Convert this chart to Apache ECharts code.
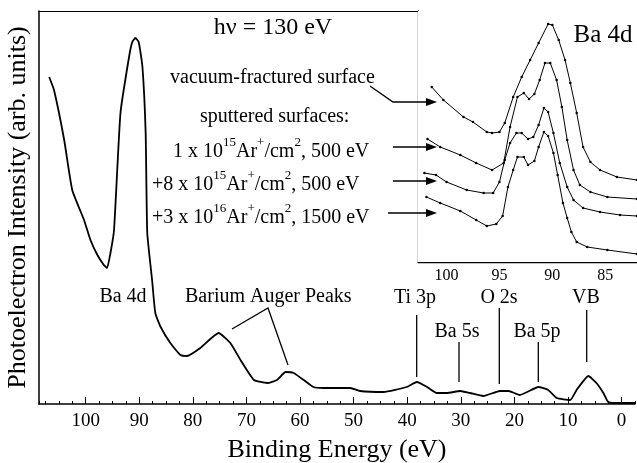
<!DOCTYPE html>
<html lang="en">
<head>
    <meta charset="UTF-8">
    <title>Ba 4d photoemission</title>
    <script src="https://cdn.jsdelivr.net/npm/echarts@6/dist/echarts.min.js"></script>
    <style type="text/css">
        html, body { margin: 0; padding: 0; background: #fff; }
        #main { width: 637px; height: 463px; }
    </style>
</head>
<body>
    <div id="main"></div>
    <script type="text/javascript">
    // main spectrum (hv = 130 eV)
    var mainEnergy = [106.8, 105.9, 104.0, 102.5, 100.3, 99.1, 97.8, 96.6, 96.0, 95.4, 94.7, 93.5, 91.9, 91.3, 90.7,
        90.1, 89.4, 88.8, 88.5, 87.6, 87.0, 86.0, 84.2, 82.3, 81.1, 78.6, 75.2, 73.0, 71.1, 68.6, 66.1, 64.3, 62.7,
        61.2, 59.3, 57.5, 55.7, 50.6, 48.8, 44.4, 40.1, 38.2, 36.3, 34.5, 32.6, 30.1, 28.3, 25.8, 22.7, 21.1, 19.0,
        15.5, 13.7, 12.1, 9.6, 8.4, 6.2, 4.7, 3.4, 2.5, 1.2, -0.3, -2.5];
    var mainIntensity = [327, 314, 264, 214, 184, 164, 149, 139, 136, 150, 174, 291, 347, 362, 366,
        362, 337, 271, 171, 124, 91, 77, 61, 49, 48, 56, 71, 61, 44, 24, 21, 24, 32,
        31, 24, 17, 16, 16, 13, 12, 17, 22, 17, 11, 11, 13, 11, 8, 13, 13, 9,
        17, 14, 6, 4, 14, 28, 21, 11, 2, 1, 1, 1];

    // inset: Ba 4d region, four surfaces
    var vacuumE = [101.4, 100.3, 98.4, 97.5, 96.2, 95.7, 95.0, 94.5, 93.7, 92.9, 92.1, 91.3, 90.4, 90.0, 89.4,
        88.8, 88.3, 87.7, 87.1, 86.4, 85.5, 83.9, 82.0];
    var vacuumI = [175, 162, 145, 140, 130, 129, 130, 139, 165, 185, 202, 219, 238, 237, 222,
        202, 179, 149, 115, 100, 92, 85, 82];
    var sp1E = [101.8, 100.6, 98.7, 97.2, 95.7, 94.6, 94.0, 93.3, 92.7, 92.2, 91.7, 91.2, 90.7, 90.2, 89.6,
        89.1, 88.6, 88.0, 87.4, 86.4, 84.8, 82.0];
    var sp1I = [123, 115, 107, 99, 92, 99, 135, 165, 169, 163, 168, 182, 199, 199, 182,
        155, 122, 92, 77, 70, 65, 63];
    var sp2E = [102.1, 101.0, 100.0, 98.1, 96.5, 95.6, 95.0, 94.5, 94.0, 93.4, 92.9, 92.3, 91.8, 91.3, 90.8,
        90.4, 89.9, 89.3, 88.6, 88.0, 87.1, 85.5, 83.6, 82.0];
    var sp2I = [89, 87, 80, 72, 69, 69, 80, 102, 119, 129, 129, 123, 125, 137, 154,
        150, 129, 99, 75, 62, 54, 50, 47, 46];
    var sp3E = [101.9, 100.6, 98.7, 97.2, 96.2, 95.3, 94.7, 94.2, 93.7, 93.3, 92.7, 92.3, 91.7, 91.3, 90.8,
        90.4, 89.9, 89.5, 89.0, 88.6, 88.2, 87.7, 86.7, 84.8, 82.0];
    var sp3I = [65, 59, 51, 42, 36, 38, 46, 75, 92, 105, 105, 97, 101, 115, 130,
        126, 109, 87, 59, 44, 30, 20, 15, 12, 8];

    var mainTicks = [0, 10, 20, 30, 40, 50, 60, 70, 80, 90, 100];
    var insetTicks = [85, 90, 95, 100];

    function pairs(xs, ys) {
        var out = [];
        for (var i = 0; i < xs.length; i++) out.push([xs[i], ys[i]]);
        return out;
    }

    var serif = '"Liberation Serif", "DejaVu Serif", serif';
    var myChart = echarts.init(document.getElementById('main'), null, { renderer: 'canvas' });

    function label(x, y, txt, size, align) {
        return {
            type: 'text', x: x, y: y, z: 50,
            style: { text: txt, font: size + 'px ' + serif, fill: '#000', align: align || 'center', verticalAlign: 'middle' }
        };
    }
    function seg(points) {
        return { type: 'polyline', z: 50, shape: { points: points }, style: { stroke: '#000', lineWidth: 1.3, fill: null } };
    }
    function arrow(x0, x1, y) {
        return [
            seg([[x0, y], [x1 - 8, y]]),
            { type: 'polygon', z: 50, shape: { points: [[x1, y], [x1 - 11, y - 4], [x1 - 11, y + 4]] }, style: { fill: '#000' } }
        ];
    }
    function richLabel(x, y, txt) {
        return {
            type: 'text', x: x, y: y, z: 50,
            style: {
                text: txt, fill: '#000', align: 'left', verticalAlign: 'middle',
                font: '20px ' + serif,
                rich: {
                    n: { fontFamily: serif, fontSize: 20, lineHeight: 26, verticalAlign: 'bottom' },
                    s: { fontFamily: serif, fontSize: 13, lineHeight: 26, verticalAlign: 'top' }
                }
            }
        };
    }

    var graphics = [
        label(273, 28, 'h\u03bd = 130 eV', 24),
        label(603, 35, 'Ba 4d', 25),
        label(170, 78, 'vacuum-fractured surface', 20, 'left'),
        label(200, 117, 'sputtered surfaces:', 20, 'left'),
        richLabel(173, 149, '{n|1 x 10}{s|15}{n|Ar}{s|+}{n|/cm}{s|2}{n|, 500 eV}'),
        richLabel(152, 182, '{n|+8 x 10}{s|15}{n|Ar}{s|+}{n|/cm}{s|2}{n|, 500 eV}'),
        richLabel(152, 215, '{n|+3 x 10}{s|16}{n|Ar}{s|+}{n|/cm}{s|2}{n|, 1500 eV}'),
        seg([[370, 86], [393, 102], [429, 102]]),
        { type: 'polygon', z: 50, shape: { points: [[437, 102], [426, 98], [426, 106]] }, style: { fill: '#000' } },
        label(123, 297, 'Ba 4d', 20),
        label(185, 297, 'Barium Auger Peaks', 20, 'left'),
        seg([[232, 329], [268, 308], [288, 365]]),
        label(415, 298, 'Ti 3p', 20),
        seg([[416.7, 315], [416.7, 377]]),
        label(457, 332, 'Ba 5s', 20),
        seg([[459, 342], [459, 382]]),
        label(499, 298, 'O 2s', 20),
        seg([[499.3, 308], [499.3, 384]]),
        label(537, 332, 'Ba 5p', 20),
        seg([[538.3, 342], [538.3, 382]]),
        label(586, 298, 'VB', 20),
        seg([[586.7, 310], [586.7, 362]])
    ].concat(arrow(393, 437, 147), arrow(393, 437, 181), arrow(388, 437, 213));

    var tickStyle = { color: '#000', width: 1 };
    var option = {
        backgroundColor: '#fff',
        animation: false,
        textStyle: { fontFamily: serif, color: '#000' },
        grid: [
            { left: 39, top: 11, right: 2, bottom: 59, containLabel: false, outerBoundsMode: 'none' },
            { left: 418, top: 11, right: 0, bottom: 201, containLabel: false, outerBoundsMode: 'none',
              show: true, backgroundColor: '#fff', borderWidth: 0, z: 5 }
        ],
        xAxis: [
            // main: minor ticks + axis line
            { type: 'value', gridIndex: 0, position: 'bottom', min: -2.5, max: 108.7, interval: 2.5, inverse: true,
              axisLine: { show: true, onZero: false, lineStyle: { color: '#000', width: 1.5 } },
              axisTick: { show: true, inside: true, length: 3, lineStyle: tickStyle },
              axisLabel: { show: false }, splitLine: { show: false },
              name: 'Binding Energy (eV)', nameLocation: 'middle', nameGap: 33,
              nameTextStyle: { fontFamily: serif, fontSize: 26, color: '#000' } },
            // main: major ticks with labels
            { type: 'value', gridIndex: 0, position: 'bottom', min: -2.5, max: 108.7, inverse: true,
              axisLine: { show: false, onZero: false },
              axisTick: { show: true, inside: true, length: 7, customValues: mainTicks, lineStyle: tickStyle },
              axisLabel: { show: true, customValues: mainTicks, margin: 8, fontFamily: serif, fontSize: 19, color: '#000' },
              splitLine: { show: false } },
            // main top border
            { type: 'value', gridIndex: 0, position: 'top', min: -2.5, max: 108.7, inverse: true,
              axisLine: { show: true, onZero: false, lineStyle: { color: '#000', width: 1.2 } },
              axisTick: { show: false }, axisLabel: { show: false }, splitLine: { show: false } },
            // inset bottom minor
            { type: 'value', gridIndex: 1, position: 'bottom', min: 82, max: 102.7, interval: 1, inverse: true,
              axisLine: { show: true, onZero: false, lineStyle: { color: '#000', width: 1.3 } },
              axisTick: { show: true, inside: true, length: 3, lineStyle: tickStyle },
              axisLabel: { show: false }, splitLine: { show: false } },
            // inset bottom major
            { type: 'value', gridIndex: 1, position: 'bottom', min: 82, max: 102.7, inverse: true,
              axisLine: { show: false, onZero: false },
              axisTick: { show: true, inside: true, length: 6, customValues: insetTicks, lineStyle: tickStyle },
              axisLabel: { show: true, customValues: insetTicks, margin: 6, fontFamily: serif, fontSize: 16, color: '#000' },
              splitLine: { show: false } },
            // inset top minor
            { type: 'value', gridIndex: 1, position: 'top', min: 82, max: 102.7, interval: 1, inverse: true,
              axisLine: { show: true, onZero: false, lineStyle: { color: '#000', width: 1.2 } },
              axisTick: { show: true, inside: true, length: 3, lineStyle: tickStyle },
              axisLabel: { show: false }, splitLine: { show: false } },
            // inset top major
            { type: 'value', gridIndex: 1, position: 'top', min: 82, max: 102.7, inverse: true,
              axisLine: { show: false, onZero: false },
              axisTick: { show: true, inside: true, length: 6, customValues: insetTicks, lineStyle: tickStyle },
              axisLabel: { show: false }, splitLine: { show: false } }
        ],
        yAxis: [
            { type: 'value', gridIndex: 0, position: 'left', min: 0, max: 393,
              axisLine: { show: true, onZero: false, lineStyle: { color: '#000', width: 1.5 } },
              axisTick: { show: false }, axisLabel: { show: false }, splitLine: { show: false },
              name: 'Photoelectron Intensity (arb. units)', nameLocation: 'middle', nameGap: 8,
              nameTextStyle: { fontFamily: serif, fontSize: 26, color: '#000' } },
            { type: 'value', gridIndex: 1, position: 'left', min: 0, max: 251,
              axisLine: { show: true, onZero: false, lineStyle: { color: '#000', width: 1.3 } },
              axisTick: { show: false }, axisLabel: { show: false }, splitLine: { show: false } }
        ],
        series: [
            { type: 'line', xAxisIndex: 0, yAxisIndex: 0, data: pairs(mainEnergy, mainIntensity),
              smooth: 0.15, showSymbol: false, lineStyle: { color: '#000', width: 1.8 } }
        ].concat([[vacuumE, vacuumI], [sp1E, sp1I], [sp2E, sp2I], [sp3E, sp3I]].map(function(s) {
            return { type: 'line', xAxisIndex: 3, yAxisIndex: 1, data: pairs(s[0], s[1]), z: 10,
                     symbol: 'circle', symbolSize: 2.5, showSymbol: true,
                     itemStyle: { color: '#000' }, lineStyle: { color: '#000', width: 1 } };
        })),
        graphic: graphics
    };
    myChart.setOption(option);
    </script>
</body>
</html>
